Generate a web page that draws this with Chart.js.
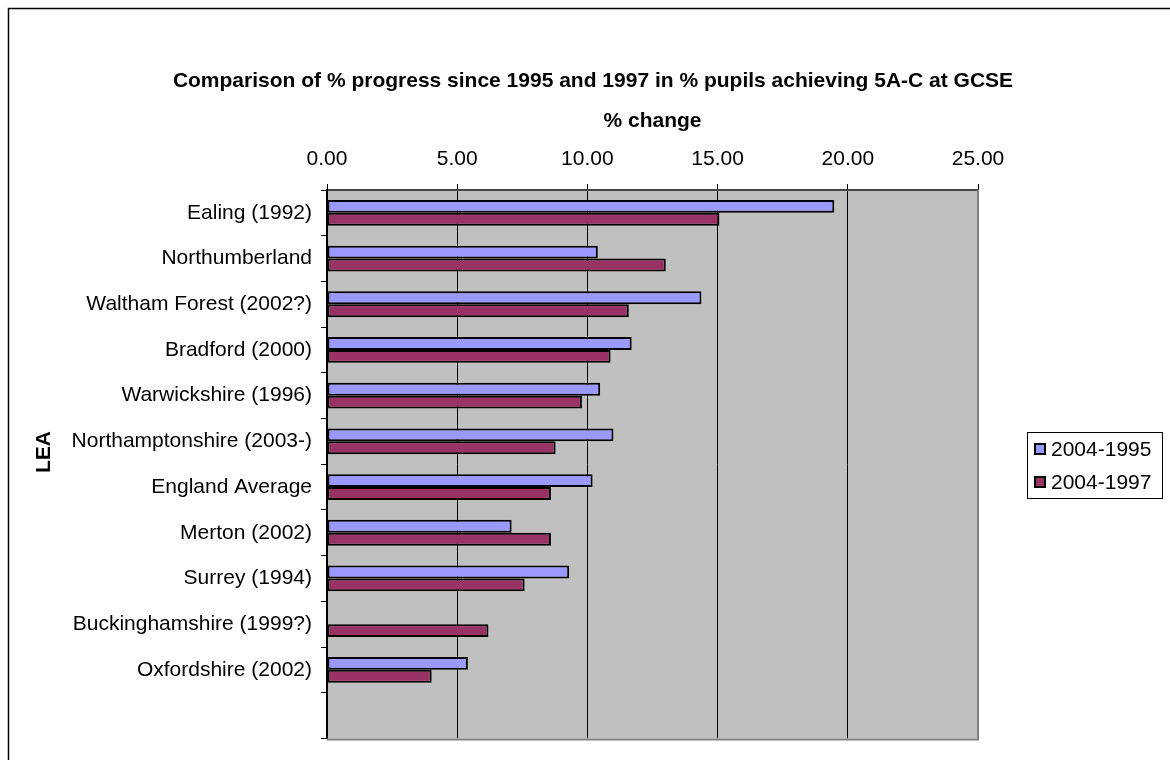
<!DOCTYPE html>
<html>
<head>
<meta charset="utf-8">
<title>GCSE progress by LEA</title>
<script src="https://cdn.jsdelivr.net/npm/chart.js@4"></script>
<style>
  html, body { margin: 0; padding: 0; background: #fff; }
  canvas { display: block; }
</style>
</head>
<body>
<canvas id="grafLea" width="1170" height="760"></canvas>
<script>
const categories = ['Ealing (1992)', 'Northumberland', 'Waltham Forest (2002?)', 'Bradford (2000)',
  'Warwickshire (1996)', 'Northamptonshire (2003-)', 'England Average', 'Merton (2002)',
  'Surrey (1994)', 'Buckinghamshire (1999?)', 'Oxfordshire (2002)', '']
const since1995 = [19.48, 10.40, 14.38, 11.70, 10.49, 11.00, 10.20, 7.09, 9.30, null, 5.41, null]
const since1997 = [15.07, 13.01, 11.59, 10.89, 9.79, 8.78, 8.60, 8.60, 7.59, 6.20, 4.02, null]
const seriesNames = ['2004-1995', '2004-1997']
const xTicks = [0, 5, 10, 15, 20, 25]

const mainTitle = 'Comparison of % progress since 1995 and 1997 in % pupils achieving 5A-C at GCSE'
const fontFam = "'Liberation Sans', Arial, sans-serif"
Chart.defaults.font.family = fontFam
Chart.defaults.color = '#000'

// frame, grey plot background, plot border, title, LEA label and legend box
const excelLook = {
  id: 'excelLook',
  beforeDraw(chart) {
    const { ctx, chartArea: a } = chart
    ctx.save()
    ctx.fillStyle = '#fff'
    ctx.fillRect(0, 0, chart.width, chart.height)
    ctx.fillStyle = '#c0c0c0'
    ctx.fillRect(a.left, a.top, a.right - a.left, a.bottom - a.top)
    ctx.restore()
  },
  afterDraw(chart) {
    const { ctx, chartArea: a } = chart
    ctx.save()
    // outer frame
    ctx.strokeStyle = '#000'
    ctx.lineWidth = 1.5
    ctx.strokeRect(8.5, 8.5, 1300, 900)

    // right and bottom edges of the plot
    ctx.strokeStyle = '#808080'
    ctx.lineWidth = 2
    ctx.beginPath()
    ctx.moveTo(a.right, a.top)
    ctx.lineTo(a.right, a.bottom + 1)
    ctx.lineTo(a.left, a.bottom + 1)
    ctx.stroke()

    ctx.fillStyle = '#000'
    ctx.font = `bold 21px ${fontFam}`
    ctx.textAlign = 'center'
    ctx.textBaseline = 'middle'
    ctx.fillText(mainTitle, 593, 81)

    ctx.save()
    ctx.translate(44, 452)
    ctx.rotate(-Math.PI / 2)
    ctx.fillText('LEA', 0, 0)
    ctx.restore()

    // legend
    const lx = 1027, ly = 432, lw = 135, lh = 66
    ctx.fillStyle = '#fff'
    ctx.fillRect(lx, ly, lw, lh)
    ctx.strokeStyle = '#000'
    ctx.lineWidth = 1
    ctx.strokeRect(lx + 0.5, ly + 0.5, lw, lh)
    ctx.font = `21px ${fontFam}`
    ctx.textAlign = 'left'
    chart.data.datasets.forEach((ds, i) => {
      const cy = ly + 17 + i * 33
      ctx.fillStyle = ds.backgroundColor
      ctx.fillRect(lx + 7, cy - 6, 12, 12)
      ctx.lineWidth = 2
      ctx.strokeRect(lx + 8, cy - 5, 10, 10)
      ctx.fillStyle = '#000'
      ctx.fillText(ds.label, lx + 24, cy + 1)
    })
    ctx.restore()
  }
}

new Chart(document.getElementById('grafLea'), {
  type: 'bar',
  data: {
    labels: categories,
    datasets: [{
      label: seriesNames[0],
      data: since1995,
      backgroundColor: '#9999ff',
      borderColor: '#000',
      borderWidth: 2,
      borderSkipped: false
    }, {
      label: seriesNames[1],
      data: since1997,
      backgroundColor: '#993366',
      borderColor: '#000',
      borderWidth: 2,
      borderSkipped: false
    }]
  },
  options: {
    responsive: false,
    animation: false,
    indexAxis: 'y',
    categoryPercentage: 0.565,
    barPercentage: 1,
    layout: {
      padding: { top: 95, right: 192, bottom: 16, left: 0 }
    },
    plugins: {
      legend: { display: false },
      title: { display: false },
      tooltip: { enabled: false }
    },
    scales: {
      x: {
        position: 'top',
        min: 0,
        max: 25,
        afterFit: s => { s.height = 95 },
        afterBuildTicks: s => { s.ticks = xTicks.map(v => ({ value: v })) },
        ticks: {
          padding: 12,
          font: { size: 21 },
          callback: v => Number(v).toFixed(2)
        },
        grid: {
          color: c => (c.tick && c.tick.value === 25 ? '#808080' : '#000'),
          tickColor: '#000',
          lineWidth: 1,
          tickLength: 6
        },
        border: { color: '#444', width: 2 },
        title: {
          display: true,
          text: '% change',
          font: { size: 21, weight: 'bold' },
          padding: { top: 14, bottom: 0 }
        }
      },
      y: {
        afterFit: s => { s.width = 327 },
        ticks: {
          padding: 9,
          font: { size: 21 },
          autoSkip: false
        },
        grid: {
          drawOnChartArea: false,
          tickLength: 6,
          tickColor: '#000'
        },
        border: { color: '#000', width: 2 }
      }
    }
  },
  plugins: [excelLook]
})
</script>
</body>
</html>
